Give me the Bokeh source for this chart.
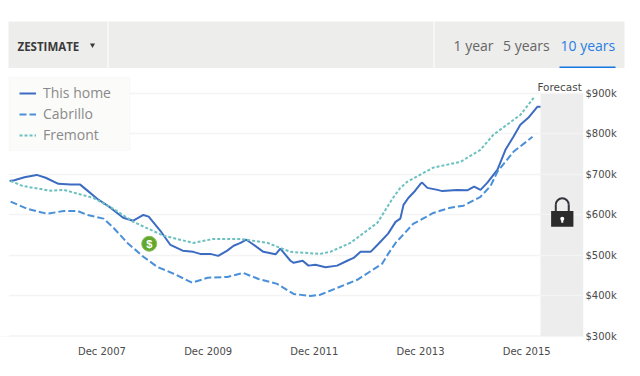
from math import pi
from bokeh.plotting import figure
from bokeh.layouts import column
from bokeh.embed import file_html
from bokeh.resources import INLINE
from bokeh.models import (BoxAnnotation, Legend, LegendItem, Span,
                          FixedTicker, Range1d)

home_years = [2006.18, 2006.27, 2006.46, 2006.69, 2006.86, 2007.10, 2007.33, 2007.51, 2007.63, 2007.83,
              2008.08, 2008.32, 2008.51, 2008.70, 2008.80, 2009.02, 2009.21, 2009.44, 2009.64, 2009.77,
              2009.96, 2010.11, 2010.28, 2010.40, 2010.53, 2010.64, 2010.75, 2010.96, 2011.19, 2011.28,
              2011.47, 2011.53, 2011.70, 2011.81, 2011.94, 2012.13, 2012.35, 2012.54, 2012.66, 2012.79,
              2012.98, 2013.13, 2013.31, 2013.45, 2013.54, 2013.60, 2013.69, 2013.82, 2013.92, 2013.95,
              2014.05, 2014.24, 2014.33, 2014.61, 2014.80, 2014.93, 2015.05, 2015.18, 2015.37, 2015.52,
              2015.67, 2015.80, 2015.95, 2016.12, 2016.18]
home_values = [684, 686, 693, 699, 692, 677, 675, 675, 662, 640,
               618, 593, 586, 600, 596, 561, 526, 512, 509, 504,
               504, 499, 512, 524, 531, 539, 529, 509, 503, 517,
               487, 482, 487, 475, 477, 471, 475, 487, 494, 509,
               509, 529, 554, 583, 591, 625, 642, 660, 677, 680,
               667, 662, 659, 662, 661, 670, 662, 680, 712, 761,
               793, 823, 840, 867, 867]

cabrillo_years = [2006.20, 2006.52, 2006.89, 2007.20, 2007.46, 2007.65, 2007.95, 2008.14, 2008.40, 2008.70,
                  2008.96, 2009.27, 2009.62, 2009.91, 2010.28, 2010.58, 2010.87, 2011.22, 2011.53, 2011.85,
                  2012.03, 2012.35, 2012.73, 2013.20, 2013.31, 2013.45, 2013.78, 2014.16, 2014.48, 2014.73,
                  2015.05, 2015.24, 2015.37, 2015.67, 2016.03]
cabrillo_values = [633, 615, 603, 610, 610, 600, 591, 568, 531, 497,
                   472, 455, 433, 445, 447, 457, 442, 430, 405, 400,
                   403, 420, 440, 480, 504, 531, 578, 605, 618, 623,
                   645, 672, 707, 756, 793]

fremont_years = [2006.20, 2006.42, 2006.63, 2006.95, 2007.20, 2007.76, 2008.14, 2008.51, 2009.08, 2009.64,
                 2010.02, 2010.53, 2011.04, 2011.47, 2012.03, 2012.22, 2012.60, 2013.11, 2013.39, 2013.54,
                 2013.67, 2014.16, 2014.67, 2015.05, 2015.29, 2015.80, 2016.05]
fremont_values = [684, 672, 667, 660, 662, 642, 615, 583, 549, 531,
                  541, 541, 531, 509, 504, 509, 531, 581, 640, 667,
                  682, 717, 731, 761, 798, 847, 889]

x_ticks = [2007.92, 2009.92, 2011.92, 2013.92, 2015.92]
x_labels = ["Dec 2007", "Dec 2009", "Dec 2011", "Dec 2013", "Dec 2015"]
y_ticks = [300, 400, 500, 600, 700, 800, 900]
y_labels = ["$300k", "$400k", "$500k", "$600k", "$700k", "$800k", "$900k"]

tab_labels = ["1 year", "5 years", "10 years"]
tab_lefts = [453, 502.5, 560]
tab_colors = ["#666666", "#666666", "#2a7de1"]

# ---------- header strip: its data units are page pixels ----------
h = figure(width=640, height=68, output_backend="svg", toolbar_location=None,
           x_range=Range1d(0, 640), y_range=Range1d(68, 0),
           min_border=0, x_axis_location=None, y_axis_location=None)
h.frame_align = False
h.outline_line_color = None
h.grid.visible = False
h.quad(left=[8], right=[624], top=[21], bottom=[68], fill_color="#ededec", line_color=None)
h.quad(left=[107, 433], right=[108, 434], top=[21, 21], bottom=[68, 68], fill_color="#ffffff", line_color=None)
h.quad(left=[559], right=[615], top=[66], bottom=[68], fill_color="#1277e1", line_color=None)
h.text([17], [45.5], text=["ZESTIMATE"], text_font={"value": "Open Sans"}, text_font_size="11.5px",
       text_font_style="bold", text_color="#3a3a3a", text_baseline="middle")
h.scatter([92], [44.5], marker="inverted_triangle", size=5, fill_color="#3a3a3a", line_color=None)
h.text(tab_lefts, [45] * 3, text=tab_labels, text_font={"value": "Open Sans"}, text_font_size="14px",
       text_color=tab_colors, text_baseline="middle")

# ---------- chart ----------
p = figure(width=640, height=308, output_backend="svg", toolbar_location=None,
           x_range=Range1d(2006.009, 2016.99), y_range=Range1d(300, 961.7),
           y_axis_location="right",
           min_border_left=0, min_border_right=57, min_border_top=0, min_border_bottom=40)
p.frame_align = False
p.outline_line_color = None

p.xaxis.ticker = FixedTicker(ticks=x_ticks)
p.xaxis.major_label_overrides = dict(zip(x_ticks, x_labels))
p.yaxis.ticker = FixedTicker(ticks=y_ticks)
p.yaxis.major_label_overrides = dict(zip(y_ticks, y_labels))
for ax in (p.xaxis[0], p.yaxis[0]):
    ax.axis_line_color = None
    ax.major_tick_line_color = None
    ax.minor_tick_line_color = None
    ax.major_tick_out = 0
    ax.major_tick_in = 0
    ax.major_label_text_font = "DejaVu Sans"
    ax.major_label_text_font_size = "10px"
    ax.major_label_text_color = "#4a4a4a"
p.xaxis.major_label_standoff = 9
p.yaxis.major_label_standoff = 2
p.xgrid.visible = False
p.ygrid.ticker = FixedTicker(ticks=y_ticks)
p.ygrid.grid_line_color = "#f4f4f4"
p.ygrid.grid_line_width = 1.5

# forecast band beneath the grid
p.add_layout(BoxAnnotation(left=2016.18, top=900, fill_color="#ededed", fill_alpha=1, line_color=None,
                           level="image"))
p.add_layout(Span(location=300, dimension="width", line_color="#eeeeee", line_width=2, level="underlay"))
# white margin left of the plot
p.add_layout(BoxAnnotation(right=2006.169, fill_color="#ffffff", fill_alpha=1, line_color=None,
                           level="underlay"))

# series
r_home = p.line(home_years, home_values, line_color="#3c6cc2", line_width=2)
r_cab = p.line(cabrillo_years, cabrillo_values, line_color="#4a90d8", line_width=2, line_dash="7 3")
r_fre = p.line(fremont_years, fremont_values, line_color="#6cc0c0", line_width=2, line_dash="3 2")

# sale marker
p.scatter([2008.81], [529], size=15, fill_color="#62a82c", line_color="#8cc060", line_width=1)
p.text([2008.81], [529], text=["$"], text_color="white", text_font_size="11px",
       text_font_style="bold", text_align="center", text_baseline="middle")

# forecast label and lock
lx = 2016.59
p.text([lx - 0.05], [915], text=["Forecast"], text_font={"value": "DejaVu Sans"}, text_font_size="10.5px",
       text_color="#4a4a4a", text_align="center", text_baseline="middle")
p.quad(left=lx - 0.21, right=lx + 0.21, top=610, bottom=571, fill_color="#2b2b2b", line_color=None)
p.arc([lx], [625], radius=6.5, radius_units="screen", start_angle=0, end_angle=pi,
      line_color="#33343c", line_width=2)
p.segment([lx - 0.122, lx + 0.122], [625, 625], [lx - 0.122, lx + 0.122], [610, 610],
          line_color="#33343c", line_width=2)
p.scatter([lx], [591], size=4, fill_color="white", line_color=None)
p.segment([lx], [591], [lx], [581], line_color="white", line_width=2)

# legend: panel plus real legend on top of it
p.add_layout(BoxAnnotation(left=2006.169, right=2008.447, top=939.5, bottom=759.3,
                           fill_color="#fafaf8", fill_alpha=0.85,
                           line_color="#eeeeee", line_width=1))
legend = Legend(items=[LegendItem(label="This home", renderers=[r_home]),
                       LegendItem(label="Cabrillo", renderers=[r_cab]),
                       LegendItem(label="Fremont", renderers=[r_fre])],
                location=(19, 192), orientation="vertical",
                label_text_font="Open Sans", label_text_font_size="14px", label_text_color="#8a8a8a",
                glyph_width=17, glyph_height=14, label_standoff=7, spacing=2,
                padding=6, margin=0,
                background_fill_alpha=0, border_line_color=None)
p.add_layout(legend, "center")

page = column(h, p, spacing=0)
open("out.html", "w").write(file_html(page, INLINE))
